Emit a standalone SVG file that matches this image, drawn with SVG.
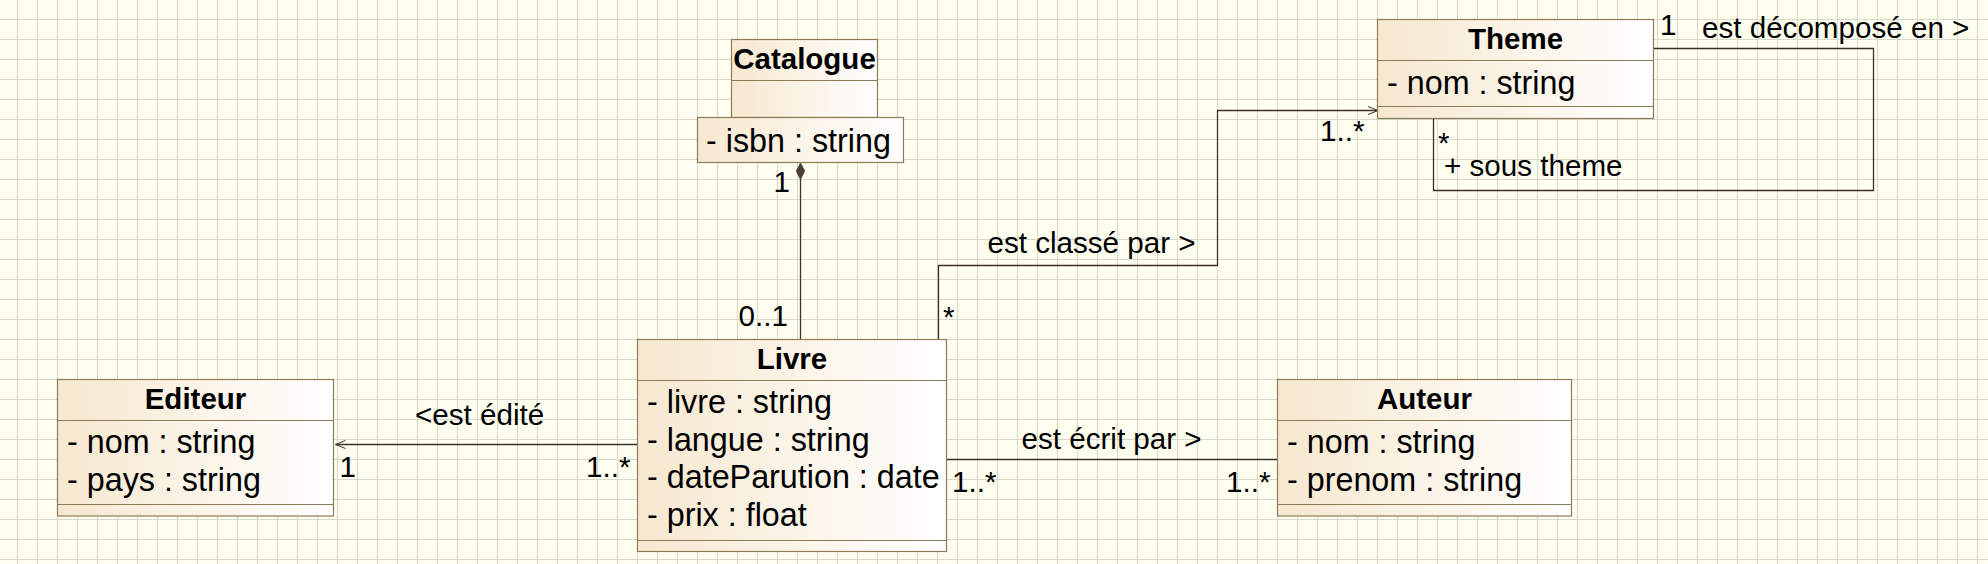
<svg xmlns="http://www.w3.org/2000/svg" width="1988" height="564" viewBox="0 0 1988 564">
<style>
.box{stroke:#8b7b5a;stroke-width:1.2;fill:url(#g)}
.sep{stroke:#8b7b5a;stroke-width:1.2;fill:none}
.t{font-family:"Liberation Sans",Arial,sans-serif;fill:#000}
.title{font-weight:bold;font-size:29.5px;text-anchor:middle}
.attr{font-size:32.3px}
.lbl{font-size:29.6px}
.con{stroke:#3b3226;stroke-width:1.3;fill:none}
</style>
<defs>
<linearGradient id="g" x1="0" y1="0" x2="1" y2="0">
<stop offset="0" stop-color="#f7e8cf"/>
<stop offset="1" stop-color="#ffffff"/>
</linearGradient>
<pattern id="grid" x="17" y="19" width="20" height="20" patternUnits="userSpaceOnUse">
<rect width="20" height="20" fill="#fffff0"/>
<rect x="0" y="0" width="1" height="20" fill="#d8d8cc"/>
<rect x="0" y="0" width="20" height="1" fill="#d8d8cc"/>
</pattern>
<marker id="open" markerWidth="14" markerHeight="12" refX="11" refY="5" orient="auto" markerUnits="userSpaceOnUse">
<path d="M1,1 L11,5 L1,9" fill="none" stroke="#3b3226" stroke-width="1"/>
</marker>
</defs>
<rect x="0" y="0" width="1988" height="564" fill="url(#grid)"/>

<g id="connectors">
<line class="con" x1="800.5" y1="179" x2="800.5" y2="339"/>
<polygon points="800.5,163 804.7,171 800.5,179.5 796.3,171" fill="#4a3f30" stroke="#4a3f30" stroke-width="0.8"/>
<polyline class="con" points="938.5,339 938.5,265.5 1217.5,265.5 1217.5,110.5 1378,110.5" marker-end="url(#open)"/>
<line class="con" x1="637" y1="444.5" x2="335.5" y2="444.5" marker-end="url(#open)"/>
<line class="con" x1="946" y1="459.5" x2="1277" y2="459.5"/>
<polyline class="con" points="1653.5,48.5 1873.5,48.5 1873.5,190.5 1433.5,190.5 1433.5,118.5"/>

<text class="t lbl" x="773.5" y="192">1</text>
<text class="t lbl" x="738.5" y="326">0..1</text>
<text class="t lbl" x="987.5" y="253">est classé par &gt;</text>
<text class="t lbl" x="943" y="327">*</text>
<text class="t lbl" x="1320" y="140.5">1..*</text>
<text class="t lbl" x="415" y="425">&lt;est édité</text>
<text class="t lbl" x="339.5" y="477">1</text>
<text class="t lbl" x="586" y="477">1..*</text>
<text class="t lbl" x="1021.5" y="448.5">est écrit par &gt;</text>
<text class="t lbl" x="952" y="491.5">1..*</text>
<text class="t lbl" x="1226" y="491.5">1..*</text>
<text class="t lbl" x="1660" y="35">1</text>
<text class="t lbl" x="1702" y="37.5">est décomposé en &gt;</text>
<text class="t lbl" x="1438" y="152.5">*</text>
<text class="t lbl" x="1444" y="175.5">+ sous theme</text>
</g>

<g id="catalogue">
<rect class="box" x="731.5" y="39.5" width="146" height="78"/>
<line class="sep" x1="731.5" y1="80.5" x2="877.5" y2="80.5"/>
<rect class="box" x="697.5" y="117.5" width="206" height="45"/>
<text class="t title" x="804.5" y="69.3">Catalogue</text>
<text class="t attr" x="706" y="151.7">- isbn : string</text>
</g>

<g id="theme">
<rect class="box" x="1377.5" y="19.5" width="276" height="99"/>
<line class="sep" x1="1377.5" y1="60.5" x2="1653.5" y2="60.5"/>
<line class="sep" x1="1377.5" y1="106.5" x2="1653.5" y2="106.5"/>
<text class="t title" x="1515.5" y="49.3">Theme</text>
<text class="t attr" x="1387" y="94.3">- nom : string</text>
</g>

<g id="livre">
<rect class="box" x="637.5" y="339.5" width="309" height="212"/>
<line class="sep" x1="637.5" y1="380.5" x2="946.5" y2="380.5"/>
<line class="sep" x1="637.5" y1="540.5" x2="946.5" y2="540.5"/>
<text class="t title" x="792" y="369.3">Livre</text>
<text class="t attr" x="647" y="413.3">- livre : string</text>
<text class="t attr" x="647" y="450.7">- langue : string</text>
<text class="t attr" x="647" y="488.1">- dateParution : date</text>
<text class="t attr" x="647" y="525.5">- prix : float</text>
</g>

<g id="editeur">
<rect class="box" x="57.5" y="379.5" width="276" height="136.5"/>
<line class="sep" x1="57.5" y1="420.5" x2="333.5" y2="420.5"/>
<line class="sep" x1="57.5" y1="504.5" x2="333.5" y2="504.5"/>
<text class="t title" x="195.5" y="409.3">Editeur</text>
<text class="t attr" x="67" y="453.3">- nom : string</text>
<text class="t attr" x="67" y="490.7">- pays : string</text>
</g>

<g id="auteur">
<rect class="box" x="1277.5" y="379.5" width="294" height="136.5"/>
<line class="sep" x1="1277.5" y1="420.5" x2="1571.5" y2="420.5"/>
<line class="sep" x1="1277.5" y1="504.5" x2="1571.5" y2="504.5"/>
<text class="t title" x="1424.5" y="409.3">Auteur</text>
<text class="t attr" x="1287" y="453.3">- nom : string</text>
<text class="t attr" x="1287" y="490.7">- prenom : string</text>
</g>
</svg>
